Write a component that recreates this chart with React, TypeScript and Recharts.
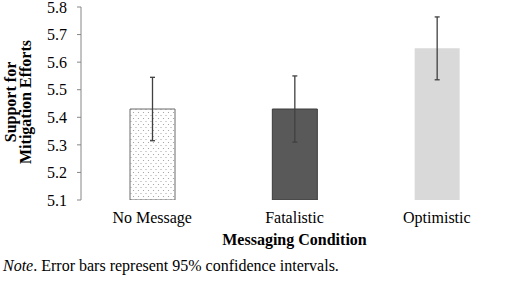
import React from 'react';
import { BarChart, Bar, XAxis, YAxis, ErrorBar, Cell, Label } from 'recharts';

const categories = ['No Message', 'Fatalistic', 'Optimistic'];
const means = [5.43, 5.43, 5.65];
const ci95 = [0.115, 0.12, 0.114];
const yTicks = [5.1, 5.2, 5.3, 5.4, 5.5, 5.6, 5.7, 5.8];
const boundaryTicks = [0, 1, 2, 3];
const yTitleLines = ['Support for', 'Mitigation Efforts'];

const fills = ['url(#dotsPattern)', '#595959', '#d9d9d9'];
const strokes = ['#6a6a6a', '#3c3c3c', 'none'];

const data = categories.map((name, i) => ({ name, value: means[i], err: ci95[i] }));

const FONT = '"Liberation Serif", "Times New Roman", serif';
const AXIS = '#868686';

const XTitle = (props: any) => {
  const vb = props.viewBox || {};
  const x = (vb.x || 0) + (vb.width || 0) / 2;
  return (
    <text x={x} y={245} textAnchor="middle" fontFamily={FONT} fontSize={16} fontWeight="bold" fill="#000">
      Messaging Condition
    </text>
  );
};

export default function App() {
  const cy = 102;
  const xs = [15.5, 30.5];
  return (
    <div style={{ position: 'absolute', left: 0, top: 0, width: 510, height: 283, background: '#fff', fontFamily: FONT }}>
      <svg width={0} height={0} style={{ position: 'absolute' }}>
        <defs>
          <pattern id="dotsPattern" width={5} height={6} patternUnits="userSpaceOnUse">
            <rect x={0} y={0} width={5} height={6} fill="#ffffff" />
            <circle cx={1} cy={1.5} r={0.6} fill="#9a9a9a" />
            <circle cx={3.5} cy={4.5} r={0.6} fill="#9a9a9a" />
          </pattern>
        </defs>
      </svg>
      <BarChart width={510} height={283} data={data} margin={{ top: 7, right: 2, bottom: 33, left: 0 }} barCategoryGap={0}>
        <XAxis xAxisId="grid" type="number" domain={[0, 3]} ticks={boundaryTicks} tick={false}
          tickSize={4} height={0} stroke={AXIS} axisLine={{ stroke: AXIS }} tickLine={{ stroke: AXIS }} allowDataOverflow />
        <XAxis xAxisId="cat" dataKey="name" axisLine={false} tickLine={false} tickSize={4} tickMargin={8} height={50}
          tick={{ fontFamily: FONT, fontSize: 16, fill: '#000' }} interval={0}>
          <Label content={<XTitle />} />
        </XAxis>
        <YAxis domain={[5.1, 5.8]} ticks={yTicks} width={81} tickSize={4} tickMargin={10} interval={0}
          tickFormatter={(v: number) => v.toFixed(1)}
          tick={{ fontFamily: FONT, fontSize: 16, fill: '#000' }}
          axisLine={{ stroke: AXIS }} tickLine={{ stroke: AXIS }} allowDataOverflow />
        <Bar dataKey="value" xAxisId="cat" barSize={45} isAnimationActive={false}>
          {data.map((d, i) => (
            <Cell key={d.name} fill={fills[i]} stroke={strokes[i]} strokeWidth={1} />
          ))}
          <ErrorBar dataKey="err" width={2.5} stroke="#404040" strokeWidth={1.3} isAnimationActive={false} />
        </Bar>
      </BarChart>
      <svg width={40} height={283} style={{ position: 'absolute', left: 0, top: 0 }}>
        {yTitleLines.map((t, i) => (
          <text key={t} x={xs[i]} y={cy} transform={`rotate(-90 ${xs[i]} ${cy})`} textAnchor="middle"
            fontFamily={FONT} fontSize={16} fontWeight="bold" fill="#000">{t}</text>
        ))}
      </svg>
      <div style={{ position: 'absolute', left: 3, top: 257.6, fontSize: 16, lineHeight: '16px', whiteSpace: 'nowrap', color: '#000' }}>
        <i>Note</i>. Error bars represent 95% confidence intervals.
      </div>
    </div>
  );
}
